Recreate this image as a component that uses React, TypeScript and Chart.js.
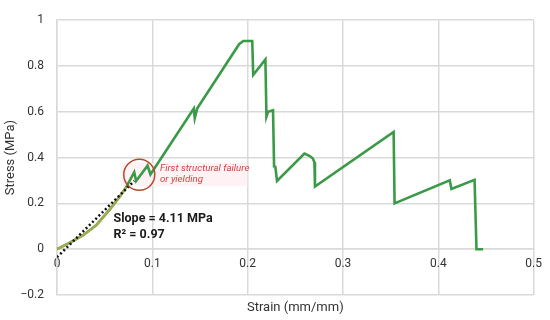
import React, { useEffect, useRef } from "react";
import { Chart, registerables } from "chart.js";

Chart.register(...registerables);

// Main stress–strain curve
const strain = [
  0, 0.0135, 0.027, 0.041, 0.055, 0.0655, 0.0725, 0.081, 0.083, 0.095, 0.098,
  0.1435, 0.1445, 0.147, 0.191, 0.1954, 0.2048, 0.2058, 0.2186, 0.2197, 0.2214,
  0.2266, 0.2277, 0.229, 0.2308, 0.2595, 0.2647, 0.2682, 0.27, 0.2706, 0.3531,
  0.3541, 0.412, 0.4137, 0.438, 0.44, 0.447,
];
const stress = [
  0, 0.029, 0.06, 0.104, 0.172, 0.228, 0.27, 0.336, 0.298, 0.365, 0.326,
  0.614, 0.572, 0.614, 0.895, 0.909, 0.909, 0.761, 0.829, 0.579, 0.6,
  0.607, 0.361, 0.36, 0.298, 0.418, 0.408, 0.397, 0.38, 0.274, 0.512,
  0.2, 0.301, 0.263, 0.303, 0, 0,
];

// Initial (toe) region used for the fit
const toeStrain = [0, 0.0135, 0.027, 0.041, 0.055, 0.0655, 0.0725];
const toeStress = [0, 0.029, 0.06, 0.104, 0.172, 0.228, 0.27];

// Linear trend line
const trendStrain = [0, 0.081];
const trendStress = [-0.035, 0.298];

// Annotation anchor (first failure)
const failureStrain = 0.0863;
const failureStress = 0.325;

const xTitle = "Strain (mm/mm)";
const yTitle = "Stress (MPa)";
const fitLines = ["Slope = 4.11 MPa", "R² = 0.97"];
const noteLines = ["First structural failure", "or yielding"];

const toPoints = (xs: number[], ys: number[]) => xs.map((x, i) => ({ x, y: ys[i] }));

const annotatePlugin = {
  id: "annotate",
  beforeDatasetsDraw(chart: any) {
    const { ctx, scales } = chart;
    const x = scales.x, y = scales.y;
    ctx.save();
    ctx.fillStyle = "rgba(253,236,241,0.7)";
    const l = x.getPixelForValue(0.0665);
    const r = x.getPixelForValue(0.2);
    const t = y.getPixelForValue(0.378);
    const b = y.getPixelForValue(0.275);
    ctx.fillRect(l, t, r - l, b - t);
    ctx.restore();
  },
  afterDatasetsDraw(chart: any) {
    const { ctx, scales, chartArea } = chart;
    const x = scales.x, y = scales.y;
    ctx.save();
    // circle
    ctx.beginPath();
    ctx.arc(x.getPixelForValue(failureStrain), y.getPixelForValue(failureStress), 15.5, 0, Math.PI * 2);
    ctx.strokeStyle = "#b04a2c";
    ctx.lineWidth = 1.5;
    ctx.stroke();
    // note
    ctx.font = "italic 9.7px Roboto";
    ctx.fillStyle = "#d0453f";
    ctx.textAlign = "left";
    ctx.textBaseline = "middle";
    const nx = x.getPixelForValue(0.108);
    ctx.fillText(noteLines[0], nx, y.getPixelForValue(0.354));
    ctx.fillText(noteLines[1], nx, y.getPixelForValue(0.305));
    // fit
    ctx.font = "bold 12.5px Roboto";
    ctx.fillStyle = "#1a1a1a";
    ctx.fillText(fitLines[0], x.getPixelForValue(0.0593), y.getPixelForValue(0.133));
    ctx.fillText(fitLines[1], x.getPixelForValue(0.0593), y.getPixelForValue(0.064));
    // x title
    ctx.font = "13px Roboto";
    ctx.fillStyle = "#333";
    ctx.textAlign = "center";
    ctx.fillText(xTitle, (chartArea.left + chartArea.right) / 2, chartArea.bottom + 13);
    ctx.restore();
  },
};

export default function App() {
  const ref = useRef<HTMLCanvasElement | null>(null);
  useEffect(() => {
    document.body.style.margin = "0";
    const canvas = ref.current!;
    const gridColor = "#d9d9d9";
    const chart = new Chart(canvas, {
      type: "scatter",
      data: {
        datasets: [
          {
            data: toPoints(trendStrain, trendStress),
            showLine: true,
            borderColor: "#111",
            borderWidth: 2.5,
            borderDash: [2, 2.5],
            pointRadius: 0,
          },
          {
            data: toPoints(toeStrain, toeStress),
            showLine: true,
            borderColor: "#a3ab50",
            borderWidth: 2.5,
            pointRadius: 0,
          },
          {
            data: toPoints(strain, stress),
            showLine: true,
            borderColor: "#3b9a47",
            borderWidth: 2.6,
            pointRadius: 0,
          },
        ],
      },
      options: {
        animation: false,
        responsive: false,
        devicePixelRatio: 1,
        layout: { padding: { left: 0, right: 12, top: 10, bottom: 25 } },
        plugins: { legend: { display: false }, tooltip: { enabled: false } },
        scales: {
          x: {
            type: "linear",
            min: 0,
            max: 0.5,
            position: { y: 0 } as any,
            border: { color: gridColor, width: 1.5 },
            grid: { color: gridColor, lineWidth: 1.5, drawTicks: false },
            ticks: {
              stepSize: 0.1,
              padding: 8,
              color: "#333",
              font: { family: "Roboto", size: 12 },
              callback: (v: any) => String(Math.round(v * 10) / 10),
            },
          },
          y: {
            type: "linear",
            min: -0.2,
            max: 1,
            border: { color: gridColor, width: 1.5 },
            grid: { color: gridColor, lineWidth: 1.5, drawTicks: false },
            ticks: {
              stepSize: 0.2,
              padding: 13,
              color: "#333",
              font: { family: "Roboto", size: 12 },
              callback: (v: any) => String(Math.round(v * 10) / 10).replace("-", "−"),
            },
            title: {
              display: true,
              text: yTitle,
              color: "#333",
              font: { family: "Roboto", size: 13 },
              padding: { top: 3, bottom: 0 },
            },
            afterFit: (s: any) => {
              s.width = 57;
            },
          },
        },
      },
      plugins: [annotatePlugin],
    });
    return () => chart.destroy();
  }, []);
  return <canvas ref={ref} width={550} height={320} style={{ display: "block" }} />;
}
